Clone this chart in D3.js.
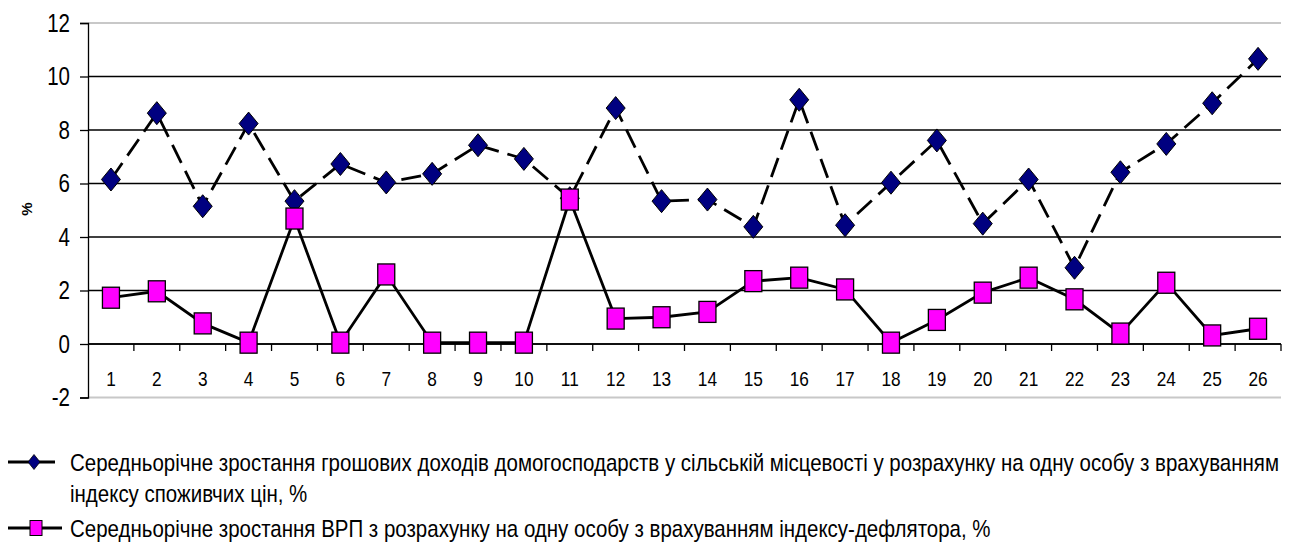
<!DOCTYPE html>
<html>
<head>
<meta charset="utf-8">
<script src="https://cdn.jsdelivr.net/npm/d3@7"></script>
<style>
  body { margin: 0; background: #fff; }
  svg { display: block; }
  text { font-family: "Liberation Sans Narrow", "Arial Narrow", "Liberation Sans", sans-serif; }
</style>
</head>
<body>
<div id="chart"></div>
<script>
const categories = d3.range(1, 27).map(String);
const incomeGrowth = [6.15, 8.63, 5.15, 8.24, 5.34, 6.73, 6.04, 6.36, 7.43, 6.92, 5.45, 8.82, 5.34, 5.4, 4.38,
    9.13, 4.44, 6.03, 7.61, 4.5, 6.15, 2.85, 6.42, 7.48, 9.0, 10.66];
const grpGrowth = [1.73, 1.97, 0.77, 0.05, 4.69, 0.05, 2.6, 0.05, 0.05, 0.05, 5.4, 0.95, 1.0, 1.2, 2.35,
    2.48, 2.04, 0.05, 0.9, 1.92, 2.48, 1.67, 0.39, 2.29, 0.32, 0.57];
const yTicks = [-2, 0, 2, 4, 6, 8, 10, 12];
const legendIncome = ["Середньорічне зростання грошових доходів домогосподарств у сільській місцевості у розрахунку на одну особу з врахуванням",
    "індексу споживчих цін, %"];
const legendGrp = "Середньорічне зростання ВРП з розрахунку на одну особу з врахуванням індексу-дефлятора, %";

const width = 1292;
const height = 546;
const margin = { top: 23, right: 11, bottom: 148.5, left: 88 };

const svg = d3.select("#chart").append("svg")
    .attr("width", width)
    .attr("height", height);

// squeeze text horizontally, the original uses a narrow face
function squeeze(sel, k) {
    sel.each(function() {
        const len = this.getComputedTextLength();
        d3.select(this).attr("textLength", len * k).attr("lengthAdjust", "spacingAndGlyphs");
    });
}

const x = d3.scaleBand()
    .domain(categories)
    .range([margin.left, width - margin.right])
    .padding(0);

const y = d3.scaleLinear()
    .domain([-2, 12])
    .range([height - margin.bottom, margin.top]);

const cx = d => x(d) + x.bandwidth() / 2;

// gridlines
svg.append("g")
    .selectAll("line")
    .data(yTicks)
    .join("line")
    .attr("x1", margin.left)
    .attr("x2", width - margin.right)
    .attr("y1", d => y(d))
    .attr("y2", d => y(d))
    .attr("stroke", d => (d === 12 || d === -2) ? "#c8c8c8" : "#000")
    .attr("stroke-width", d => (d === 12 || d === -2) ? 2 : 1.3);

// y axis
svg.append("g")
    .attr("transform", `translate(${margin.left},0)`)
    .call(d3.axisLeft(y).tickValues(yTicks).tickSize(8).tickPadding(10).tickFormat(d => String(d)))
    .call(g => g.select(".domain").attr("stroke", "#000").attr("stroke-width", 1.3))
    .call(g => g.selectAll(".tick line").attr("stroke-width", 1.3))
    .call(g => g.selectAll(".tick text")
        .attr("font-family", null)
        .attr("font-size", 25)
        .attr("fill", "#000")
        .call(squeeze, 0.82));

// x axis at zero, ticks at band boundaries
const xAxis = svg.append("g")
    .attr("transform", `translate(0,${y(0)})`);
xAxis.append("line")
    .attr("x1", margin.left)
    .attr("x2", width - margin.right)
    .attr("stroke", "#000")
    .attr("stroke-width", 1.6);
xAxis.selectAll("line.tk")
    .data(categories.slice(1).concat(["end"]))
    .join("line")
    .attr("class", "tk")
    .attr("x1", d => d === "end" ? width - margin.right : x(d))
    .attr("x2", d => d === "end" ? width - margin.right : x(d))
    .attr("y1", 0)
    .attr("y2", 7)
    .attr("stroke", "#000")
    .attr("stroke-width", 1.3);
xAxis.selectAll("text")
    .data(categories)
    .join("text")
    .attr("x", d => cx(d))
    .attr("y", 42)
    .attr("text-anchor", "middle")
    .attr("font-size", 21)
    .text(d => d)
    .call(squeeze, 0.82);

// y label
svg.append("text")
    .attr("transform", "translate(32,209) rotate(-90)")
    .attr("text-anchor", "middle")
    .attr("font-size", 15)
    .attr("font-weight", "bold")
    .attr("font-family", "'Liberation Sans', Arial, sans-serif")
    .text("%");

// lines
const line = d3.line().x((d, i) => cx(categories[i])).y(d => y(d));

svg.append("path")
    .datum(incomeGrowth)
    .attr("fill", "none")
    .attr("stroke", "#000")
    .attr("stroke-width", 2.8)
    .attr("stroke-dasharray", "20,9")
    .attr("d", line);

svg.append("path")
    .datum(grpGrowth)
    .attr("fill", "none")
    .attr("stroke", "#000")
    .attr("stroke-width", 2.8)
    .attr("d", line);

// markers
const diamond = (w, h) => `M0,${-h / 2}L${w / 2},0L0,${h / 2}L${-w / 2},0Z`;

svg.append("g")
    .selectAll("path")
    .data(incomeGrowth)
    .join("path")
    .attr("transform", (d, i) => `translate(${cx(categories[i])},${y(d)})`)
    .attr("d", diamond(19, 23))
    .attr("fill", "#000080")
    .attr("stroke", "#000")
    .attr("stroke-width", 1);

svg.append("g")
    .selectAll("rect")
    .data(grpGrowth)
    .join("rect")
    .attr("x", (d, i) => cx(categories[i]) - 8.5)
    .attr("y", d => y(d) - 10.5)
    .attr("width", 17)
    .attr("height", 21)
    .attr("fill", "#ff00ff")
    .attr("stroke", "#000")
    .attr("stroke-width", 1.3);

// legend
const legend = svg.append("g");
const l1 = legend.append("g").attr("transform", "translate(0,462)");
l1.append("line").attr("x1", 8).attr("x2", 55).attr("stroke", "#000").attr("stroke-width", 2.8);
l1.append("path").attr("transform", "translate(34,0)").attr("d", diamond(12, 15))
    .attr("fill", "#000080").attr("stroke", "#000").attr("stroke-width", 0.8);

const l2 = legend.append("g").attr("transform", "translate(0,528)");
l2.append("line").attr("x1", 8).attr("x2", 62).attr("stroke", "#000").attr("stroke-width", 2.8);
l2.append("rect").attr("x", 30).attr("y", -7.5).attr("width", 12).attr("height", 15)
    .attr("fill", "#ff00ff").attr("stroke", "#000").attr("stroke-width", 1);

// legend texts live in a horizontally scaled group (narrow face look)
const lt = legend.append("g").attr("transform", "translate(70,0)");
const ts = lt.append("g");
const t1 = ts.selectAll("text.a")
    .data(legendIncome)
    .join("text")
    .attr("class", "a")
    .attr("y", (d, i) => 471 + i * 31)
    .attr("font-size", 24)
    .text(d => d);
ts.append("text")
    .attr("y", 537)
    .attr("font-size", 24)
    .text(legendGrp);

const k = 1210 / t1.node().getComputedTextLength();
ts.attr("transform", `scale(${k},1)`);
</script>
</body>
</html>
